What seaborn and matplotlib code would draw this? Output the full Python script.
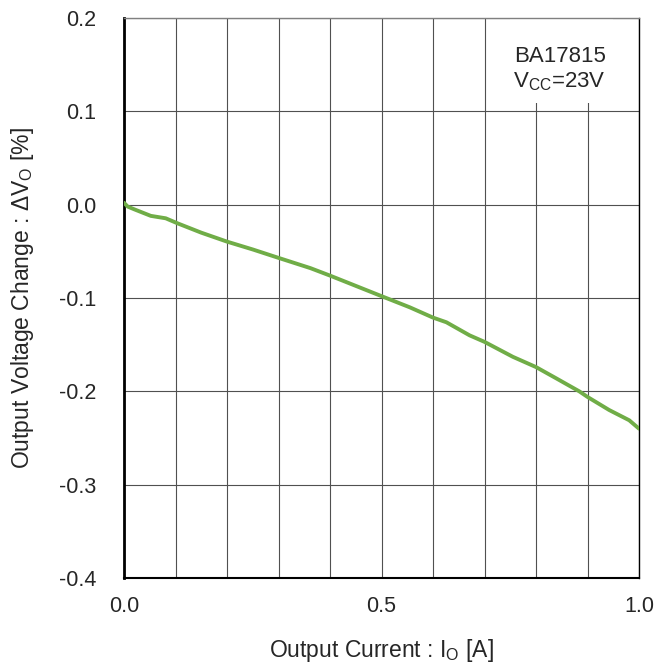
import pandas as pd
import matplotlib
matplotlib.use("Agg")
import matplotlib.pyplot as plt
from matplotlib.patches import Rectangle
import seaborn as sns

# Output current [A] vs output voltage change [%]
current = [0.0, 0.007, 0.02, 0.052, 0.081, 0.104, 0.15, 0.2, 0.25, 0.3, 0.362, 0.4, 0.45,
           0.5, 0.555, 0.6, 0.626, 0.671, 0.70, 0.755, 0.80, 0.839, 0.884, 0.90, 0.942, 0.981, 1.0]
dv = [0.002, -0.002, -0.005, -0.012, -0.0146, -0.02, -0.030, -0.0396, -0.048, -0.057, -0.068,
      -0.076, -0.087, -0.098, -0.110, -0.121, -0.126, -0.140, -0.147, -0.163, -0.174, -0.186,
      -0.200, -0.206, -0.220, -0.231, -0.240]

x_ticks = [i / 10 for i in range(11)]
x_ticklabels = ["0.0", "", "", "", "", "0.5", "", "", "", "", "1.0"]
y_ticks = [-0.4, -0.3, -0.2, -0.1, 0.0, 0.1, 0.2]
y_ticklabels = ["-0.4", "-0.3", "-0.2", "-0.1", "0.0", "0.1", "0.2"]

data = pd.DataFrame({"Io": current, "dV": dv})

sns.set_style("white")
plt.rcParams['font.family'] = ['Liberation Sans', 'DejaVu Sans']
plt.rcParams['mathtext.fontset'] = 'custom'
plt.rcParams['mathtext.rm'] = 'Liberation Sans'
plt.rcParams['mathtext.it'] = 'Liberation Sans'

fig, ax = plt.subplots(figsize=(6.67, 6.67), dpi=100)
fig.subplots_adjust(left=124/667, right=639/667, top=1-18/667, bottom=1-578/667)

sns.lineplot(data=data, x="Io", y="dV", color="#70AD47", linewidth=2.8, ax=ax, zorder=4)

ax.set_xlim(0, 1.0)
ax.set_ylim(-0.4, 0.2)
ax.set_xticks(x_ticks)
ax.set_xticklabels(x_ticklabels)
ax.set_yticks(y_ticks)
ax.set_yticklabels(y_ticklabels)
ax.tick_params(axis="both", length=0, labelsize=15.5)
ax.tick_params(axis="y", pad=20)
ax.tick_params(axis="x", pad=13)
ax.grid(True, color="#505050", linewidth=0.8)
ax.set_axisbelow(True)

ax.spines["top"].set_color("#808080")
ax.spines["top"].set_linewidth(1.0)
ax.spines["right"].set_color("black")
ax.spines["right"].set_linewidth(1.0)
ax.spines["left"].set_color("black")
ax.spines["left"].set_linewidth(2.0)
ax.spines["bottom"].set_color("black")
ax.spines["bottom"].set_linewidth(1.5)

ax.set_xlabel("Output Current : I$_\\mathregular{O}$ [A]", fontsize=16.5)
ax.set_ylabel("Output Voltage Change : ΔV$_\\mathregular{O}$ [%]", fontsize=16.5)
ax.xaxis.set_label_coords(0.5, -0.105)
ax.yaxis.set_label_coords(-0.17, 0.5)

# white box behind the annotation
ax.add_patch(Rectangle((0.75, 0.109), 0.2, 0.091, facecolor="white", edgecolor="none", zorder=2))
ax.text(0.936, 0.153, "BA17815", fontsize=16, ha="right", va="baseline", zorder=3)
ax.text(0.936, 0.126, "V$_\\mathregular{CC}$=23V", fontsize=16, ha="right", va="baseline", zorder=3)

fig.savefig("out.png", dpi=100)
